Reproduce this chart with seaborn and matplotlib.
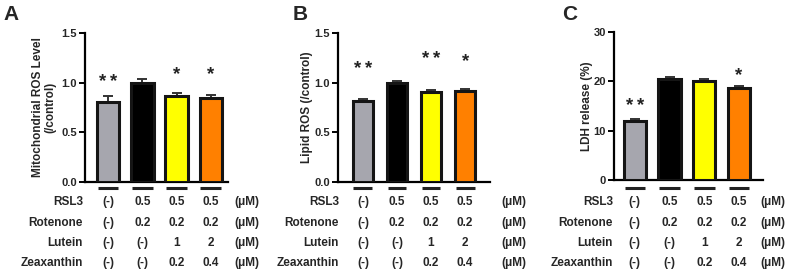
import matplotlib
matplotlib.use('Agg')
import matplotlib.pyplot as plt
import matplotlib.transforms as mtransforms
import seaborn as sns
import pandas as pd
import numpy as np

# ---------------- data ----------------
groups = ['Control', 'RSL3+Rotenone', 'Low carotenoid', 'High carotenoid']
bar_colors = ['#a6a6ae', '#000000', '#ffff00', '#ff8000']

mito_mean = [0.81, 1.00, 0.87, 0.85]
mito_sem = [0.06, 0.04, 0.025, 0.025]
mito_stars = ['**', '', '*', '*']
mito_star_y = [1.04, 0.0, 1.11, 1.11]

lipid_mean = [0.82, 1.00, 0.91, 0.92]
lipid_sem = [0.015, 0.02, 0.02, 0.02]
lipid_stars = ['**', '', '**', '*']
lipid_star_y = [1.17, 0.0, 1.27, 1.24]

ldh_mean = [12.0, 20.4, 20.1, 18.7]
ldh_sem = [0.45, 0.55, 0.45, 0.35]
ldh_stars = ['**', '', '', '*']
ldh_star_y = [15.8, 0.0, 0.0, 21.9]

row_names = ['RSL3', 'Rotenone', 'Lutein', 'Zeaxanthin']
rsl3 = ['(-)', '0.5', '0.5', '0.5']
rotenone = ['(-)', '0.2', '0.2', '0.2']
lutein = ['(-)', '(-)', '1', '2']
zeaxanthin = ['(-)', '(-)', '0.2', '0.4']
unit = '(μM)'

# ---------------- style ----------------
sns.set_style('ticks')
plt.rcParams['font.family'] = ['Liberation Sans', 'DejaVu Sans']
plt.rcParams['font.weight'] = 'bold'
plt.rcParams['axes.labelweight'] = 'bold'

W, H = 790, 272
fig = plt.figure(figsize=(W / 100, H / 100), dpi=100)

def rect(l, r, top, bottom):
    return [l / W, 1 - bottom / H, (r - l) / W, (bottom - top) / H]

panels = [
    dict(letter='A', letter_x=11, rect=rect(85, 228, 33, 182), xlim=(-0.67, 3.5),
         ylim=(0, 1.5), yticks=[0, 0.5, 1.0, 1.5], fmt='{:.1f}',
         ylabel='Mitochondrial ROS Level\n(/control)', ylabel_x=44,
         mean=mito_mean, sem=mito_sem, stars=mito_stars, star_y=mito_star_y,
         label_right=83, unit_x=247, width=0.66),
    dict(letter='B', letter_x=300, rect=rect(338, 490, 33, 182), xlim=(-0.73, 3.73),
         ylim=(0, 1.5), yticks=[0, 0.5, 1.0, 1.5], fmt='{:.1f}',
         ylabel='Lipid ROS (/control)', ylabel_x=307,
         mean=lipid_mean, sem=lipid_sem, stars=lipid_stars, star_y=lipid_star_y,
         label_right=339, unit_x=514, width=0.6),
    dict(letter='C', letter_x=570, rect=rect(614, 763, 32, 180), xlim=(-0.6, 3.69),
         ylim=(0, 30), yticks=[0, 10, 20, 30], fmt='{:.0f}',
         ylabel='LDH release (%)', ylabel_x=587,
         mean=ldh_mean, sem=ldh_sem, stars=ldh_stars, star_y=ldh_star_y,
         label_right=613, unit_x=773, width=0.64),
]

table_rows = [rsl3, rotenone, lutein, zeaxanthin]
row_y_px = [202, 223, 243, 263]
edge = '#151515'
fs = 8.5

for p in panels:
    ax = fig.add_axes(p['rect'])
    df = pd.DataFrame({'group': groups, 'value': p['mean']})
    sns.barplot(data=df, x='group', y='value', hue='group', order=groups,
                hue_order=groups, palette=bar_colors, saturation=1, width=p['width'],
                edgecolor=edge, linewidth=2.2, legend=False, ax=ax, zorder=3)
    x = np.arange(len(groups))
    ax.errorbar(x, p['mean'], yerr=[np.zeros(len(x)), p['sem']], fmt='none',
                ecolor='#333333', elinewidth=1.4, capsize=3.5, capthick=1.4, zorder=2)
    ax.set_xlim(*p['xlim'])
    ax.set_ylim(*p['ylim'])
    ax.set_yticks(p['yticks'])
    ax.set_yticklabels([p['fmt'].format(v) for v in p['yticks']], fontsize=8, fontweight='bold')
    ax.set_xticks([])
    ax.set_xlabel('')
    ax.set_ylabel(p['ylabel'], fontsize=fs, fontweight='bold', linespacing=1.1)
    ax.yaxis.label.set_va('center')
    ax.yaxis.set_label_coords((p['ylabel_x'] - p['rect'][0] * W) / (p['rect'][2] * W), 0.5)
    ax.tick_params(axis='y', length=4, width=1.4, color='black', pad=2)
    for s in ['top', 'right']:
        ax.spines[s].set_visible(False)
    for s in ['left', 'bottom']:
        ax.spines[s].set_linewidth(1.6)
        ax.spines[s].set_color('black')

    # significance stars (each star drawn separately, as in the original)
    for xi, st, sy in zip(x, p['stars'], p['star_y']):
        n = len(st)
        for k in range(n):
            dx = (k - (n - 1) / 2) * 7.8
            ax.annotate('*', (xi, sy), xytext=(dx, -5.5), textcoords='offset points',
                        ha='center', va='baseline', fontsize=13.5, fontweight='bold',
                        color='#222222', annotation_clip=False)

    # underlines below bars
    bt = mtransforms.blended_transform_factory(ax.transData, fig.transFigure)
    yl = 1 - 188 / H
    for xi in x:
        hw = p['width'] * 0.46
        ax.plot([xi - hw, xi + hw], [yl, yl], transform=bt, color='#222222',
                lw=2.2, clip_on=False, solid_capstyle='butt')

    # condition table
    for r, (name, vals) in enumerate(zip(row_names, table_rows)):
        yf = 1 - row_y_px[r] / H
        fig.text(p['label_right'] / W, yf, name, ha='right', va='center',
                 fontsize=fs, fontweight='bold')
        for xi, v in zip(x, vals):
            ax.text(xi, yf, v, transform=bt, ha='center', va='center',
                    fontsize=fs, fontweight='bold')
        fig.text(p['unit_x'] / W, yf, unit, ha='center', va='center',
                 fontsize=fs, fontweight='bold')

    fig.text(p['letter_x'] / W, 1 - 14 / H, p['letter'], ha='center', va='center',
             fontsize=15, fontweight='bold')

fig.savefig('out.png', dpi=100)
